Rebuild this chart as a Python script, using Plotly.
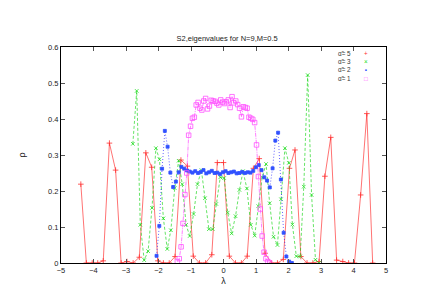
import plotly.graph_objects as go

# alpha = 5 (red)
red_x = [-4.39, -4.22, -4.04, -3.87, -3.70, -3.51, -3.32, -3.15, -2.97, -2.78,
         -2.59, -2.39, -2.21, -2.02, -1.85, -1.67, -1.49, -1.31, -1.11, -0.93,
         -0.74, -0.55, -0.36, -0.19, 0.00, 0.18, 0.37, 0.55, 0.73, 0.92,
         1.10, 1.28, 1.48, 1.66, 1.84, 2.03, 2.20, 2.38, 2.57, 2.75,
         2.94, 3.12, 3.30, 3.48, 3.67, 3.85, 4.03, 4.22, 4.41, 4.59]
red_y = [0.219, 0.0, 0.0, 0.0, 0.006, 0.333, 0.258, 0.0, 0.004, 0.0,
         0.016, 0.306, 0.266, 0.006, 0.0, 0.0, 0.018, 0.286, 0.269, 0.019,
         0.0, 0.0, 0.023, 0.279, 0.279, 0.019, 0.0, 0.0, 0.019, 0.263,
         0.29, 0.027, 0.0, 0.0, 0.01, 0.263, 0.314, 0.018, 0.0, 0.0,
         0.004, 0.241, 0.349, 0.008, 0.004, 0.0, 0.0, 0.189, 0.415, 0.0]

# alpha = 3 (green)
green_x = [-2.79, -2.67, -2.56, -2.44, -2.32, -2.20, -2.08, -1.97, -1.85, -1.73,
           -1.62, -1.50, -1.38, -1.27, -1.15, -1.04, -0.92, -0.80, -0.68, -0.57,
           -0.45, -0.33, -0.22, -0.10, 0.02, 0.13, 0.25, 0.37, 0.49, 0.60,
           0.72, 0.84, 0.96, 1.07, 1.19, 1.31, 1.42, 1.54, 1.66, 1.77,
           1.89, 2.01, 2.12, 2.24, 2.36, 2.47, 2.59, 2.71, 2.83, 2.94]
green_y = [0.331, 0.478, 0.106, 0.008, 0.033, 0.153, 0.319, 0.288, 0.124, 0.039,
           0.091, 0.208, 0.284, 0.219, 0.106, 0.075, 0.136, 0.219, 0.258, 0.18,
           0.094, 0.094, 0.164, 0.238, 0.236, 0.14, 0.082, 0.13, 0.203, 0.255,
           0.207, 0.106, 0.076, 0.158, 0.238, 0.275, 0.166, 0.073, 0.05, 0.177,
           0.319, 0.278, 0.107, 0.019, 0.018, 0.212, 0.522, 0.189, 0.009, 0.0]

# alpha = 2 (blue)
blue_x = [-2.06, -1.975, -1.89, -1.805, -1.72, -1.635, -1.55, -1.465, -1.38, -1.295,
          -1.21, -1.125, -1.04, -0.955, -0.87, -0.785, -0.70, -0.615, -0.53, -0.445,
          -0.36, -0.275, -0.19, -0.105, -0.02, 0.065, 0.15, 0.235, 0.32, 0.405,
          0.49, 0.575, 0.66, 0.745, 0.83, 0.915, 1.0, 1.085, 1.17, 1.255,
          1.34, 1.425, 1.51, 1.595, 1.68, 1.765, 1.85, 1.935, 2.02, 2.105]
blue_y = [0.02, 0.103, 0.262, 0.367, 0.323, 0.251, 0.211, 0.226, 0.252, 0.267,
          0.262, 0.257, 0.254, 0.251, 0.255, 0.25, 0.253, 0.258, 0.249, 0.252,
          0.256, 0.25, 0.251, 0.247, 0.252, 0.255, 0.25, 0.252, 0.254, 0.249,
          0.25, 0.253, 0.25, 0.252, 0.251, 0.256, 0.266, 0.272, 0.258, 0.238,
          0.229, 0.21, 0.263, 0.34, 0.362, 0.232, 0.084, 0.018, 0.004, 0.0]

# alpha = 1 (magenta)
mag_x = [-1.42, -1.362, -1.304, -1.246, -1.188, -1.13, -1.072, -1.014, -0.956, -0.898,
         -0.84, -0.782, -0.724, -0.666, -0.608, -0.55, -0.492, -0.434, -0.376, -0.318,
         -0.26, -0.202, -0.144, -0.086, -0.028, 0.03, 0.088, 0.146, 0.204, 0.262,
         0.32, 0.378, 0.436, 0.494, 0.552, 0.61, 0.668, 0.726, 0.784, 0.842,
         0.90, 0.958, 1.016, 1.074, 1.132, 1.19, 1.248, 1.306, 1.364, 1.422]
mag_y = [0.004, 0.012, 0.045, 0.11, 0.19, 0.25, 0.355, 0.38, 0.402, 0.405,
         0.439, 0.446, 0.43, 0.425, 0.45, 0.457, 0.428, 0.436, 0.452, 0.45,
         0.449, 0.444, 0.439, 0.453, 0.447, 0.443, 0.448, 0.453, 0.432, 0.462,
         0.445, 0.45, 0.44, 0.43, 0.406, 0.434, 0.432, 0.43, 0.405, 0.402,
         0.399, 0.39, 0.328, 0.24, 0.15, 0.075, 0.03, 0.012, 0.004, 0.0]

legend_labels = ["\u03b1\u0303= 5", "\u03b1\u0303= 3", "\u03b1\u0303= 2", "\u03b1\u0303= 1"]
legend_glyphs = ["+", "\u00d7", "\u25aa", "\u25a1"]
x_ticks = [-5, -4, -3, -2, -1, 0, 1, 2, 3, 4, 5]
y_ticks = [0, 0.1, 0.2, 0.3, 0.4, 0.5, 0.6]
y_ticktext = ["0", "0.1", "0.2", "0.3", "0.4", "0.5", "0.6"]

FONT = "Liberation Sans"
series = [
    (red_x, red_y, "rgba(255,0,0,0.55)", "#ff3030", "solid", "cross-thin-open", 4),
    (green_x, green_y, "rgba(0,210,0,0.6)", "#20dd20", "3px,2px", "x-thin-open", 3.5),
    (blue_x, blue_y, "rgba(0,0,255,0.6)", "#3050ff", "1px,2px", "square", 3),
    (mag_x, mag_y, "rgba(255,0,255,0.5)", "#ff50ff", "4px,1px,1px,1px", "square-open", 4.5),
]

fig = go.Figure()
for xs, ys, lc, mc, dash, sym, sz in series:
    fig.add_trace(go.Scatter(
        x=xs, y=ys, mode="lines+markers",
        line=dict(color=lc, width=1, dash=dash),
        marker=dict(symbol=sym, size=sz, color=mc, line=dict(color=mc, width=0.8)),
        showlegend=False, hoverinfo="skip"))

glyph_colors = ["#ff3030", "#20dd20", "#3050ff", "#ff50ff"]
label_text = "<br>".join(legend_labels)
glyph_text = "<br>".join(f'<span style="color:{c}">{g}</span>'
                         for g, c in zip(legend_glyphs, glyph_colors))
ann = [
    dict(x=0.895, y=0.912, xref="paper", yref="paper", text=label_text,
         showarrow=False, xanchor="right", yanchor="middle", align="right",
         borderpad=0, font=dict(family=FONT, size=6.3, color="#333")),
    dict(x=0.938, y=0.912, xref="paper", yref="paper", text=glyph_text,
         showarrow=False, xanchor="center", yanchor="middle", align="center",
         borderpad=0, font=dict(family=FONT, size=6.3)),
]

fig.update_layout(
    width=428, height=300,
    margin=dict(l=53, r=50, t=39, b=45, autoexpand=False),
    paper_bgcolor="white", plot_bgcolor="white",
    font=dict(family=FONT, size=7.5, color="#222"),
    title=dict(text="S2,eigenvalues for N=9,M=0.5", x=0.512, xanchor="center",
               y=1 - 30 / 300, yanchor="middle", font=dict(size=7.5)),
    annotations=ann,
    xaxis=dict(range=[-5, 5], tickvals=x_ticks, ticks="inside", ticklen=4,
               mirror="ticks", showline=True, linecolor="black", linewidth=1,
               tickcolor="#555", showgrid=False, zeroline=False, automargin=False,
               title=dict(text="\u03bb", standoff=3)),
    yaxis=dict(range=[0, 0.6], tickvals=y_ticks, ticktext=y_ticktext, ticks="inside",
               ticklen=4, mirror="ticks", showline=True, linecolor="black",
               linewidth=1, tickcolor="#555", showgrid=False, zeroline=False,
               automargin=False, title=dict(text="\u03c1", standoff=20)),
)

fig.write_html("out.html")
